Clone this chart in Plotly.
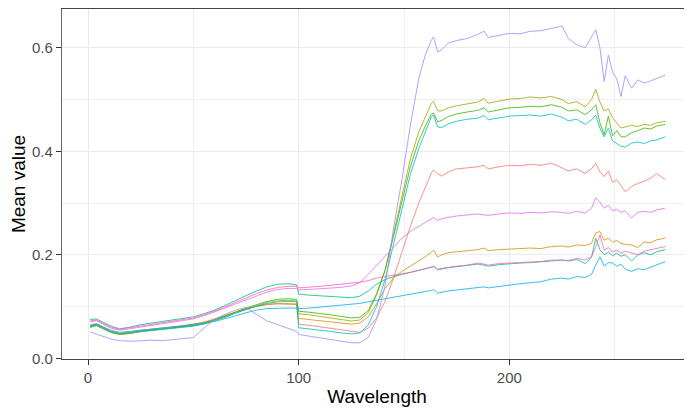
import plotly.graph_objects as go

wavelength = [1, 4, 7, 11, 15, 20, 25, 30, 35, 40, 45, 50, 55, 60, 65, 70, 75, 80, 85, 90, 95, 99,
              100, 105, 110, 115, 120, 125, 129, 133, 137, 141, 145, 149, 153, 157, 160, 163, 164, 166,
              168, 171, 175, 180, 185, 188, 190, 195, 200, 205, 210, 215, 220, 225, 228, 232, 236, 239,
              241, 243, 245, 247, 249, 251, 253, 255, 258, 261, 264, 267, 270, 274]

red = [0.063, 0.066, 0.060, 0.052, 0.048, 0.050, 0.054, 0.056, 0.058, 0.060, 0.063, 0.066, 0.070, 0.076, 0.083, 0.090, 0.096, 0.101, 0.104, 0.105, 0.105, 0.104,
       0.066, 0.064, 0.061, 0.058, 0.055, 0.051, 0.050, 0.058, 0.078, 0.110, 0.155, 0.205, 0.255, 0.300, 0.330, 0.358, 0.364, 0.356,
       0.352, 0.360, 0.366, 0.368, 0.370, 0.373, 0.366, 0.370, 0.373, 0.372, 0.375, 0.373, 0.377, 0.368, 0.362, 0.366, 0.357, 0.366,
       0.377, 0.360, 0.351, 0.362, 0.340, 0.345, 0.333, 0.322, 0.332, 0.338, 0.342, 0.348, 0.357, 0.345]

orange = [0.061, 0.064, 0.058, 0.050, 0.046, 0.048, 0.052, 0.055, 0.057, 0.059, 0.062, 0.065, 0.069, 0.075, 0.082, 0.089, 0.095, 0.100, 0.104, 0.106, 0.106, 0.105,
          0.077, 0.075, 0.073, 0.070, 0.068, 0.066, 0.068, 0.080, 0.105, 0.135, 0.155, 0.168, 0.178, 0.188, 0.196, 0.205, 0.209, 0.196,
          0.200, 0.204, 0.206, 0.208, 0.210, 0.213, 0.208, 0.210, 0.211, 0.212, 0.213, 0.212, 0.216, 0.217, 0.215, 0.219, 0.218, 0.222,
          0.242, 0.245, 0.228, 0.232, 0.224, 0.228, 0.222, 0.220, 0.219, 0.214, 0.225, 0.223, 0.229, 0.232]

olive = [0.060, 0.064, 0.058, 0.050, 0.046, 0.048, 0.052, 0.054, 0.056, 0.058, 0.060, 0.063, 0.067, 0.073, 0.080, 0.088, 0.095, 0.102, 0.108, 0.111, 0.112, 0.111,
         0.086, 0.084, 0.081, 0.078, 0.075, 0.072, 0.074, 0.088, 0.122, 0.170, 0.240, 0.315, 0.385, 0.437, 0.465, 0.493, 0.496, 0.478,
         0.478, 0.484, 0.488, 0.492, 0.495, 0.502, 0.493, 0.497, 0.501, 0.502, 0.505, 0.503, 0.506, 0.500, 0.492, 0.496, 0.486, 0.500,
         0.520, 0.495, 0.478, 0.482, 0.465, 0.455, 0.445, 0.447, 0.450, 0.448, 0.452, 0.450, 0.455, 0.458]

green = [0.062, 0.066, 0.060, 0.052, 0.048, 0.050, 0.053, 0.055, 0.057, 0.059, 0.061, 0.064, 0.068, 0.074, 0.081, 0.089, 0.097, 0.104, 0.110, 0.114, 0.115, 0.114,
         0.091, 0.089, 0.087, 0.084, 0.081, 0.078, 0.079, 0.092, 0.125, 0.170, 0.235, 0.305, 0.370, 0.420, 0.448, 0.472, 0.474, 0.457,
         0.460, 0.467, 0.472, 0.476, 0.479, 0.484, 0.476, 0.480, 0.484, 0.485, 0.487, 0.486, 0.490, 0.485, 0.478, 0.480, 0.471, 0.480,
         0.490, 0.455, 0.432, 0.468, 0.430, 0.440, 0.428, 0.428, 0.436, 0.440, 0.445, 0.443, 0.449, 0.452]

teal = [0.075, 0.076, 0.070, 0.062, 0.057, 0.060, 0.065, 0.068, 0.070, 0.073, 0.076, 0.080, 0.086, 0.093, 0.102, 0.112, 0.121, 0.130, 0.138, 0.143, 0.144, 0.142,
        0.124, 0.122, 0.121, 0.119, 0.118, 0.117, 0.120, 0.130, 0.143, 0.152, 0.158, 0.162, 0.166, 0.170, 0.172, 0.176, 0.177, 0.171,
        0.173, 0.175, 0.177, 0.179, 0.182, 0.180, 0.178, 0.181, 0.183, 0.184, 0.185, 0.186, 0.188, 0.190, 0.188, 0.191, 0.183, 0.195,
        0.232, 0.210, 0.200, 0.205, 0.198, 0.203, 0.197, 0.200, 0.188, 0.200, 0.204, 0.200, 0.206, 0.210]

cyan = [0.060, 0.063, 0.057, 0.050, 0.047, 0.049, 0.052, 0.054, 0.056, 0.058, 0.060, 0.062, 0.066, 0.072, 0.079, 0.087, 0.094, 0.101, 0.106, 0.109, 0.110, 0.109,
        0.059, 0.057, 0.055, 0.052, 0.049, 0.047, 0.049, 0.064, 0.100, 0.152, 0.220, 0.290, 0.355, 0.405, 0.435, 0.467, 0.470, 0.447,
        0.446, 0.453, 0.458, 0.462, 0.464, 0.469, 0.461, 0.465, 0.468, 0.469, 0.470, 0.468, 0.472, 0.466, 0.459, 0.462, 0.452, 0.461,
        0.470, 0.445, 0.428, 0.445, 0.420, 0.415, 0.410, 0.408, 0.416, 0.418, 0.415, 0.420, 0.422, 0.428]

blue = [0.064, 0.067, 0.061, 0.054, 0.050, 0.052, 0.055, 0.057, 0.059, 0.060, 0.062, 0.064, 0.067, 0.071, 0.076, 0.082, 0.088, 0.093, 0.096, 0.097, 0.097, 0.097,
        0.096, 0.097, 0.099, 0.100, 0.102, 0.104, 0.106, 0.109, 0.112, 0.116, 0.119, 0.122, 0.125, 0.127, 0.129, 0.131, 0.133, 0.126,
        0.128, 0.130, 0.132, 0.134, 0.136, 0.138, 0.136, 0.139, 0.142, 0.144, 0.146, 0.148, 0.153, 0.155, 0.153, 0.158, 0.156, 0.162,
        0.180, 0.196, 0.178, 0.185, 0.184, 0.178, 0.182, 0.172, 0.168, 0.173, 0.171, 0.176, 0.180, 0.187]

purple = [0.051, 0.047, 0.042, 0.037, 0.034, 0.033, 0.034, 0.035, 0.034, 0.036, 0.037, 0.040, 0.058, 0.075, 0.085, 0.093, 0.098, 0.085, 0.072, 0.065, 0.058, 0.052,
          0.046, 0.043, 0.040, 0.036, 0.033, 0.030, 0.030, 0.040, 0.075, 0.140, 0.250, 0.345, 0.450, 0.540, 0.585, 0.615, 0.621, 0.592,
          0.597, 0.609, 0.614, 0.618, 0.626, 0.632, 0.620, 0.624, 0.628, 0.627, 0.632, 0.633, 0.638, 0.642, 0.618, 0.606, 0.600, 0.620,
          0.635, 0.600, 0.535, 0.586, 0.553, 0.540, 0.506, 0.546, 0.522, 0.538, 0.532, 0.536, 0.541, 0.547]

magenta = [0.070, 0.073, 0.066, 0.058, 0.054, 0.057, 0.061, 0.064, 0.066, 0.069, 0.072, 0.076, 0.082, 0.089, 0.097, 0.105, 0.113, 0.121, 0.128, 0.133, 0.135, 0.135,
           0.132, 0.133, 0.134, 0.135, 0.137, 0.140, 0.146, 0.162, 0.180, 0.198, 0.215, 0.232, 0.245, 0.255, 0.262, 0.270, 0.272, 0.266,
           0.270, 0.272, 0.275, 0.277, 0.279, 0.277, 0.276, 0.279, 0.281, 0.280, 0.282, 0.281, 0.283, 0.282, 0.280, 0.284, 0.281, 0.290,
           0.310, 0.302, 0.290, 0.296, 0.285, 0.288, 0.282, 0.285, 0.271, 0.282, 0.284, 0.282, 0.287, 0.290]

pink = [0.072, 0.074, 0.068, 0.060, 0.056, 0.059, 0.063, 0.066, 0.068, 0.071, 0.074, 0.078, 0.084, 0.091, 0.099, 0.108, 0.117, 0.125, 0.132, 0.137, 0.139, 0.139,
        0.136, 0.137, 0.139, 0.141, 0.143, 0.145, 0.147, 0.150, 0.155, 0.158, 0.160, 0.163, 0.166, 0.170, 0.172, 0.176, 0.178, 0.172,
        0.174, 0.176, 0.178, 0.180, 0.184, 0.182, 0.180, 0.183, 0.184, 0.185, 0.186, 0.187, 0.190, 0.190, 0.189, 0.193, 0.190, 0.196,
        0.215, 0.238, 0.209, 0.214, 0.205, 0.209, 0.203, 0.207, 0.203, 0.200, 0.207, 0.210, 0.212, 0.216]

series = [
    ("1", red, "#F8766D"),
    ("2", orange, "#D89000"),
    ("3", olive, "#A3A500"),
    ("4", green, "#39B600"),
    ("5", teal, "#00BF7D"),
    ("6", cyan, "#00BFC4"),
    ("7", blue, "#00B0F6"),
    ("8", purple, "#9590FF"),
    ("9", magenta, "#E76BF3"),
    ("10", pink, "#FF62BC"),
]

fig = go.Figure()
for name, vals, col in series:
    fig.add_trace(go.Scatter(x=wavelength, y=vals, mode="lines", name=name, opacity=0.8,
                             line=dict(color=col, width=1), showlegend=False))

font_family = "Liberation Sans, Arial, sans-serif"
# page body has an 8px margin, so the figure is sized/offset to compensate
fig.update_layout(
    width=684, height=402,
    margin=dict(l=54, r=0, t=1, b=51),
    paper_bgcolor="white", plot_bgcolor="white",
    font=dict(family=font_family),
)
fig.update_xaxes(
    range=[-12.34, 286.7], tickvals=[0, 100, 200], ticktext=["0", "100", "200"],
    showgrid=True, gridcolor="#EBEBEB", gridwidth=1,
    minor=dict(tickvals=[50, 150, 250], showgrid=True, gridcolor="#F0F0F0", gridwidth=0.6),
    zeroline=False, showline=True, linecolor="#444444", linewidth=1.2, mirror=True,
    ticks="outside", ticklen=5, tickcolor="#333333", tickwidth=1,
    tickfont=dict(size=15, color="#4D4D4D", family=font_family),
    title=dict(text="Wavelength", font=dict(size=19, color="black", family=font_family), standoff=4),
    automargin=False,
)
fig.update_yaxes(
    range=[-0.0014, 0.675], tickvals=[0.0, 0.2, 0.4, 0.6], ticktext=["0.0", "0.2", "0.4", "0.6"],
    showgrid=True, gridcolor="#EBEBEB", gridwidth=1,
    minor=dict(tickvals=[0.1, 0.3, 0.5], showgrid=True, gridcolor="#F0F0F0", gridwidth=0.6),
    zeroline=False, showline=True, linecolor="#666666", linewidth=1.2, mirror=True,
    ticks="outside", ticklen=5, tickcolor="#333333", tickwidth=1,
    tickfont=dict(size=15, color="#4D4D4D", family=font_family),
    title=dict(text="Mean value", font=dict(size=19, color="black", family=font_family), standoff=4),
    automargin=False,
)

fig.write_html("out.html")
